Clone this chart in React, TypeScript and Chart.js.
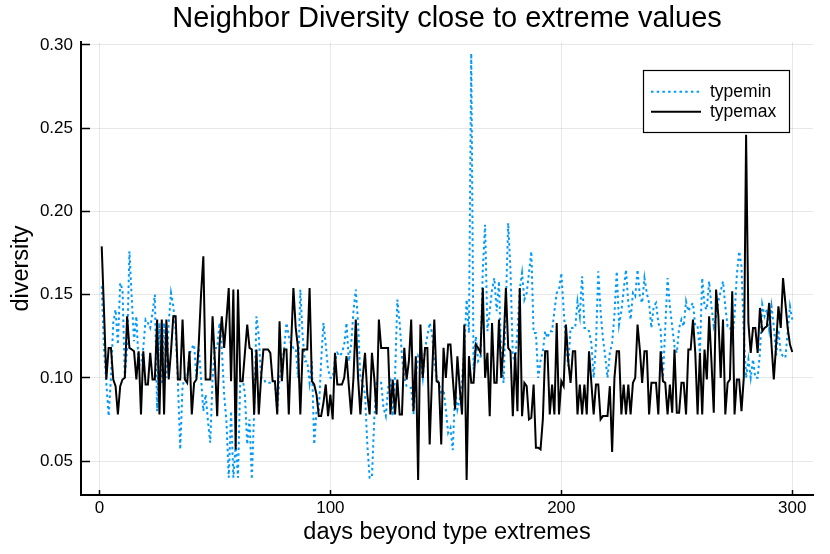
import React, { useEffect, useRef } from 'react';
import { Chart, registerables } from 'chart.js';

Chart.register(...registerables);

const titleText = 'Neighbor Diversity close to extreme values';
const xAxisLabel = 'days beyond type extremes';
const yAxisLabel = 'diversity';
const seriesNames = ['typemin', 'typemax'];
const xTickValues = [0, 100, 200, 300];
const yTickValues = [0.05, 0.1, 0.15, 0.2, 0.25, 0.3];

// typemin (blue, dotted), days 1..300
const typeminValues = [
  0.155, 0.117, 0.097, 0.077, 0.1, 0.133, 0.141, 0.12, 0.157, 0.153,
  0.1, 0.118, 0.176, 0.148, 0.122, 0.137, 0.108, 0.108, 0.118, 0.135,
  0.133, 0.13, 0.139, 0.15, 0.08, 0.133, 0.096, 0.133, 0.1, 0.133,
  0.151, 0.143, 0.129, 0.097, 0.057, 0.095, 0.1, 0.1, 0.114, 0.118,
  0.12, 0.1, 0.118, 0.1, 0.08, 0.09, 0.074, 0.061, 0.1, 0.118,
  0.118, 0.133, 0.118, 0.09, 0.074, 0.04, 0.08, 0.04, 0.06, 0.04,
  0.1, 0.1, 0.09, 0.06, 0.075, 0.039, 0.08, 0.137, 0.125, 0.1,
  0.1, 0.097, 0.097, 0.097, 0.097, 0.097, 0.08, 0.1, 0.107, 0.118,
  0.133, 0.125, 0.12, 0.118, 0.118, 0.1, 0.153, 0.125, 0.11, 0.11,
  0.097, 0.11, 0.06, 0.08, 0.08, 0.11, 0.133, 0.12, 0.105, 0.1,
  0.1, 0.11, 0.115, 0.113, 0.115, 0.12, 0.133, 0.11, 0.12, 0.14,
  0.153, 0.133, 0.1, 0.097, 0.09, 0.06, 0.04, 0.04, 0.075, 0.097,
  0.097, 0.097, 0.082, 0.077, 0.094, 0.1, 0.077, 0.1, 0.147, 0.133,
  0.113, 0.1, 0.095, 0.094, 0.094, 0.078, 0.1, 0.113, 0.11, 0.1,
  0.118, 0.125, 0.133, 0.127, 0.11, 0.1, 0.097, 0.09, 0.093, 0.081,
  0.067, 0.07, 0.0566, 0.093, 0.081, 0.087, 0.098, 0.118, 0.147, 0.127,
  0.295, 0.105, 0.125, 0.11, 0.112, 0.165, 0.192, 0.128, 0.14, 0.153,
  0.16, 0.14, 0.158, 0.112, 0.097, 0.145, 0.193, 0.164, 0.113, 0.11,
  0.128, 0.153, 0.163, 0.147, 0.151, 0.163, 0.176, 0.127, 0.127, 0.1,
  0.11, 0.116, 0.128, 0.124, 0.128, 0.128, 0.14, 0.151, 0.153, 0.163,
  0.141, 0.121, 0.107, 0.13, 0.13, 0.13, 0.146, 0.137, 0.161, 0.13,
  0.13, 0.128, 0.121, 0.1, 0.12, 0.164, 0.14, 0.124, 0.113, 0.1,
  0.115, 0.121, 0.138, 0.164, 0.132, 0.14, 0.153, 0.165, 0.145, 0.135,
  0.151, 0.149, 0.165, 0.149, 0.145, 0.16, 0.151, 0.145, 0.13, 0.143,
  0.145, 0.133, 0.129, 0.1, 0.13, 0.16, 0.143, 0.131, 0.119, 0.115,
  0.13, 0.135, 0.131, 0.146, 0.14, 0.143, 0.145, 0.131, 0.131, 0.115,
  0.16, 0.143, 0.141, 0.158, 0.143, 0.131, 0.137, 0.146, 0.152, 0.158,
  0.143, 0.131, 0.131, 0.123, 0.137, 0.162, 0.176, 0.167, 0.127, 0.1,
  0.111, 0.1, 0.111, 0.1, 0.1, 0.115, 0.144, 0.137, 0.141, 0.129,
  0.143, 0.131, 0.113, 0.129, 0.115, 0.113, 0.112, 0.127, 0.143, 0.135,
];

// typemax (black, solid), days 1..300
const typemaxValues = [
  0.179, 0.14, 0.099, 0.118, 0.118, 0.099, 0.095, 0.078, 0.095, 0.099,
  0.1, 0.137, 0.118, 0.117, 0.116, 0.099, 0.116, 0.078, 0.116, 0.096,
  0.096, 0.115, 0.099, 0.099, 0.135, 0.078, 0.135, 0.078, 0.135, 0.099,
  0.116, 0.137, 0.137, 0.099, 0.099, 0.135, 0.099, 0.097, 0.116, 0.078,
  0.097, 0.099, 0.12, 0.15, 0.173, 0.099, 0.099, 0.099, 0.137, 0.11,
  0.077, 0.12, 0.137, 0.118, 0.135, 0.154, 0.098, 0.153, 0.057, 0.153,
  0.098, 0.098, 0.115, 0.132, 0.118, 0.117, 0.078, 0.117, 0.078, 0.1,
  0.117, 0.117, 0.117, 0.115, 0.098, 0.098, 0.078, 0.134, 0.098, 0.117,
  0.117, 0.078, 0.12, 0.154, 0.13, 0.118, 0.078, 0.117, 0.117, 0.117,
  0.154, 0.098, 0.096, 0.09, 0.077, 0.077, 0.085, 0.096, 0.077, 0.09,
  0.075, 0.115, 0.096, 0.096, 0.096, 0.1, 0.113, 0.095, 0.078, 0.1,
  0.135, 0.1, 0.078, 0.1, 0.115, 0.09, 0.078, 0.115, 0.1, 0.078,
  0.135, 0.118, 0.118, 0.118, 0.118, 0.078, 0.099, 0.078, 0.099, 0.078,
  0.078, 0.118, 0.099, 0.11, 0.135, 0.08, 0.113, 0.0386, 0.132, 0.1,
  0.118, 0.118, 0.06, 0.1, 0.135, 0.098, 0.097, 0.06, 0.118, 0.1,
  0.12, 0.12, 0.1, 0.081, 0.113, 0.094, 0.078, 0.132, 0.0386, 0.113,
  0.097, 0.097, 0.12, 0.118, 0.115, 0.154, 0.1, 0.115, 0.077, 0.133,
  0.097, 0.097, 0.135, 0.1, 0.12, 0.154, 0.118, 0.116, 0.077, 0.115,
  0.08, 0.154, 0.077, 0.097, 0.095, 0.075, 0.076, 0.096, 0.058, 0.058,
  0.057, 0.075, 0.116, 0.116, 0.078, 0.096, 0.078, 0.133, 0.078, 0.098,
  0.095, 0.132, 0.11, 0.097, 0.116, 0.116, 0.078, 0.096, 0.078, 0.096,
  0.078, 0.116, 0.097, 0.078, 0.096, 0.096, 0.075, 0.077, 0.077, 0.077,
  0.095, 0.0554, 0.1, 0.116, 0.116, 0.078, 0.096, 0.078, 0.096, 0.078,
  0.097, 0.1, 0.132, 0.117, 0.097, 0.116, 0.116, 0.078, 0.097, 0.097,
  0.097, 0.078, 0.116, 0.098, 0.097, 0.078, 0.096, 0.079, 0.117, 0.079,
  0.079, 0.097, 0.097, 0.078, 0.117, 0.117, 0.135, 0.115, 0.078, 0.115,
  0.078, 0.117, 0.099, 0.137, 0.11, 0.079, 0.153, 0.137, 0.1, 0.135,
  0.078, 0.097, 0.099, 0.152, 0.078, 0.099, 0.099, 0.08, 0.1, 0.246,
  0.133, 0.115, 0.13, 0.13, 0.115, 0.142, 0.128, 0.13, 0.131, 0.145,
  0.12, 0.099, 0.12, 0.143, 0.13, 0.16, 0.145, 0.13, 0.12, 0.1155,
];

const FONT = "'Liberation Sans', Arial, Helvetica, sans-serif";

const boxLegend = {
  id: 'boxLegend',
  afterDraw(chart: any) {
    const { ctx, chartArea } = chart;
    const w = 146;
    const h = 62;
    const x0 = chartArea.right - 24 - w;
    const y0 = chartArea.top + 28;
    ctx.save();
    ctx.fillStyle = '#ffffff';
    ctx.fillRect(x0, y0, w, h);
    ctx.strokeStyle = '#000000';
    ctx.lineWidth = 1.2;
    ctx.strokeRect(Math.round(x0) + 0.5, Math.round(y0) + 0.5, w, h);
    chart.data.datasets.forEach((ds: any, i: number) => {
      const cy = y0 + 21.7 + i * 20;
      ctx.beginPath();
      ctx.strokeStyle = ds.borderColor;
      ctx.lineWidth = ds.borderWidth;
      ctx.setLineDash(ds.borderDash || []);
      ctx.moveTo(x0 + 8, cy);
      ctx.lineTo(x0 + 58, cy);
      ctx.stroke();
      ctx.setLineDash([]);
      ctx.fillStyle = '#000000';
      ctx.font = `17.5px ${FONT}`;
      ctx.textBaseline = 'middle';
      ctx.textAlign = 'left';
      ctx.fillText(ds.label, x0 + 67, cy);
    });
    ctx.restore();
  },
};

export default function App() {
  const ref = useRef<HTMLCanvasElement>(null);

  useEffect(() => {
    const canvas = ref.current;
    if (!canvas) return;
    const days = typeminValues.map((_, i) => i + 1);
    const gridColor = 'rgba(0,0,0,0.09)';

    const chart = new Chart(canvas, {
      type: 'line',
      data: {
        datasets: [
          {
            label: seriesNames[0],
            data: days.map((d, i) => ({ x: d, y: typeminValues[i] })),
            borderColor: '#009AFA',
            backgroundColor: '#009AFA',
            borderWidth: 2,
            borderDash: [2.5, 3.2],
            pointRadius: 0,
            tension: 0,
            fill: false,
            order: 1,
          },
          {
            label: seriesNames[1],
            data: days.map((d, i) => ({ x: d, y: typemaxValues[i] })),
            borderColor: '#000000',
            backgroundColor: '#000000',
            borderWidth: 2,
            pointRadius: 0,
            tension: 0,
            fill: false,
            order: 0,
          },
        ],
      },
      options: {
        responsive: false,
        maintainAspectRatio: false,
        animation: false,
        devicePixelRatio: 1,
        layout: { padding: { left: 0, right: 17, top: 0, bottom: 0 } },
        plugins: {
          legend: { display: false },
          tooltip: { enabled: false },
          title: {
            display: true,
            text: titleText,
            fullSize: false,
            color: '#000000',
            font: { family: FONT, size: 29, weight: 'normal', lineHeight: 1.1 },
            padding: { top: 3, bottom: 7.1 },
          },
        },
        scales: {
          x: {
            type: 'linear',
            min: -7.97,
            max: 308.97,
            afterBuildTicks: (s: any) => {
              s.ticks = xTickValues.map((v) => ({ value: v }));
            },
            afterFit: (s: any) => {
              s.height = 59;
            },
            grid: {
              color: gridColor,
              lineWidth: 1,
              drawTicks: true,
              tickLength: -5,
              tickColor: '#000000',
              tickWidth: 1.5,
            },
            border: { display: true, color: '#000000', width: 2 },
            ticks: {
              color: '#000000',
              font: { family: FONT, size: 17, lineHeight: 1.2 },
              padding: 8.1,
              maxRotation: 0,
              callback: (v: any) => String(v),
            },
            title: {
              display: true,
              text: xAxisLabel,
              color: '#000000',
              font: { family: FONT, size: 23.5, lineHeight: 1.2 },
              padding: { top: 0, bottom: 7 },
            },
          },
          y: {
            type: 'linear',
            min: 0.0296,
            max: 0.3018,
            afterBuildTicks: (s: any) => {
              s.ticks = yTickValues.map((v) => ({ value: v }));
            },
            afterFit: (s: any) => {
              s.width = 81;
            },
            grid: {
              color: gridColor,
              lineWidth: 1,
              drawTicks: true,
              tickLength: -9,
              tickColor: '#000000',
              tickWidth: 1.5,
            },
            border: { display: true, color: '#000000', width: 2 },
            ticks: {
              color: '#000000',
              font: { family: FONT, size: 17, lineHeight: 1.2 },
              padding: 17,
              callback: (v: any) => Number(v).toFixed(2),
            },
            title: {
              display: true,
              text: yAxisLabel,
              color: '#000000',
              font: { family: FONT, size: 23.5, lineHeight: 1.2 },
              padding: { top: 7, bottom: 0 },
            },
          },
        },
      },
      plugins: [boxLegend],
    } as any);

    return () => {
      chart.destroy();
    };
  }, []);

  return (
    <div style={{ position: 'absolute', left: 0, top: 0, width: 830, height: 554, background: '#ffffff' }}>
      <canvas ref={ref} width={830} height={554} style={{ display: 'block', width: 830, height: 554 }} />
    </div>
  );
}
